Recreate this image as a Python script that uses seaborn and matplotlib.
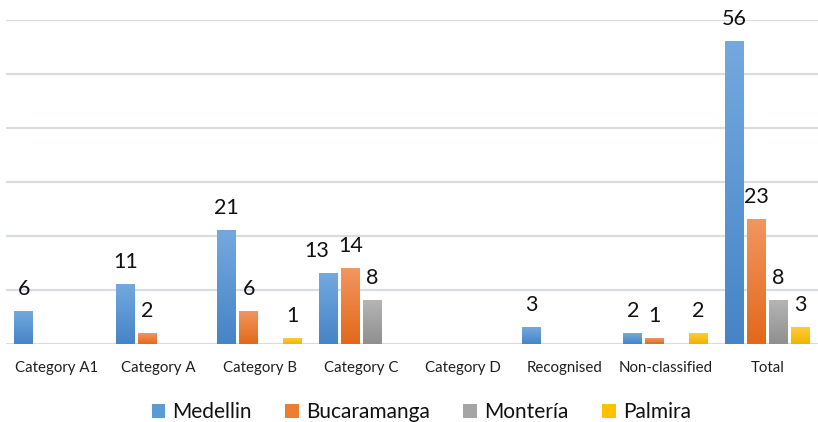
import numpy as np
import pandas as pd
import matplotlib
matplotlib.use("Agg")
import matplotlib.pyplot as plt
from matplotlib.colors import LinearSegmentedColormap
from matplotlib.patches import Patch
import seaborn as sns

# Counts per category and city
categories = ["Category A1", "Category A", "Category B", "Category C",
              "Category D", "Recognised", "Non-classified", "Total"]
cities = ["Medellin", "Bucaramanga", "Montería", "Palmira"]
medellin = [6, 11, 21, 13, 0, 3, 2, 56]
bucaramanga = [0, 2, 6, 14, 0, 0, 1, 23]
monteria = [0, 0, 0, 8, 0, 0, 0, 8]
palmira = [0, 0, 1, 0, 0, 0, 2, 3]
y_ticks = [0, 10, 20, 30, 40, 50, 60]

df = pd.DataFrame({
    "category": categories * 4,
    "city": [c for c in cities for _ in categories],
    "value": medellin + bucaramanga + monteria + palmira,
})

# (top, bottom) colours of the vertical gradient fill of each series
gradients = {
    "Medellin": ("#73a9de", "#4684c6"),
    "Bucaramanga": ("#f29660", "#e2681a"),
    "Montería": ("#b5b5b5", "#8f8f8f"),
    "Palmira": ("#ffcd3a", "#efb300"),
}
solid = {"Medellin": "#5b9bd5", "Bucaramanga": "#ed7d31",
         "Montería": "#a5a5a5", "Palmira": "#ffc000"}

sns.set_style("white")
plt.rcParams["font.family"] = ["Lato", "DejaVu Sans"]

fig = plt.figure(figsize=(8.18, 4.22), dpi=100)
ax = fig.add_axes([6 / 818, 78 / 422, 812 / 818, 324 / 422])

sns.barplot(data=df, x="category", y="value", hue="city", hue_order=cities,
            order=categories, palette=solid, width=0.865, gap=0.14,
            legend=False, ax=ax, zorder=3)

grad = np.linspace(0, 1, 256).reshape(-1, 1)
# small sideways nudge for a label that would collide with its neighbour
label_nudge = {("Medellin", "Category C"): -8}

for city, container in zip(cities, ax.containers):
    top, bottom = gradients[city]
    cmap = LinearSegmentedColormap.from_list(city, [bottom, top])
    for cat, bar in zip(categories, container):
        h = bar.get_height()
        bar.set_visible(False)
        if h <= 0:
            continue
        x0 = bar.get_x()
        x1 = x0 + bar.get_width()
        ax.imshow(grad, extent=[x0, x1, 0, h], origin="lower", aspect="auto",
                  cmap=cmap, zorder=3, interpolation="bilinear")
        ax.annotate(f"{h:g}", xy=((x0 + x1) / 2, h),
                    xytext=(label_nudge.get((city, cat), 0), 12),
                    textcoords="offset points", ha="center", va="baseline",
                    fontsize=15.5, color="#111111", annotation_clip=False)

ax.set_xlim(-0.5, len(categories) - 0.5)
ax.set_ylim(0, 60)
ax.set_yticks(y_ticks)
ax.set_yticklabels([])
ax.yaxis.grid(True, color="#d9dde3", linewidth=1.6, zorder=0)
ax.set_axisbelow(True)
for s in ax.spines.values():
    s.set_visible(False)
ax.tick_params(axis="x", length=0, pad=12, labelsize=10.8, labelcolor="#1f1f1f")
ax.tick_params(axis="y", length=0)
ax.set_xlabel("")
ax.set_ylabel("")

handles = [Patch(facecolor=solid[c], edgecolor="none") for c in cities]
fig.legend(handles, cities, loc="center", bbox_to_anchor=(0.515, 0.024),
           ncol=4, frameon=False, fontsize=15, handlelength=0.65,
           handleheight=0.65, handletextpad=0.35, columnspacing=1.6,
           labelcolor="#111111")

fig.savefig("out.png", dpi=100)
